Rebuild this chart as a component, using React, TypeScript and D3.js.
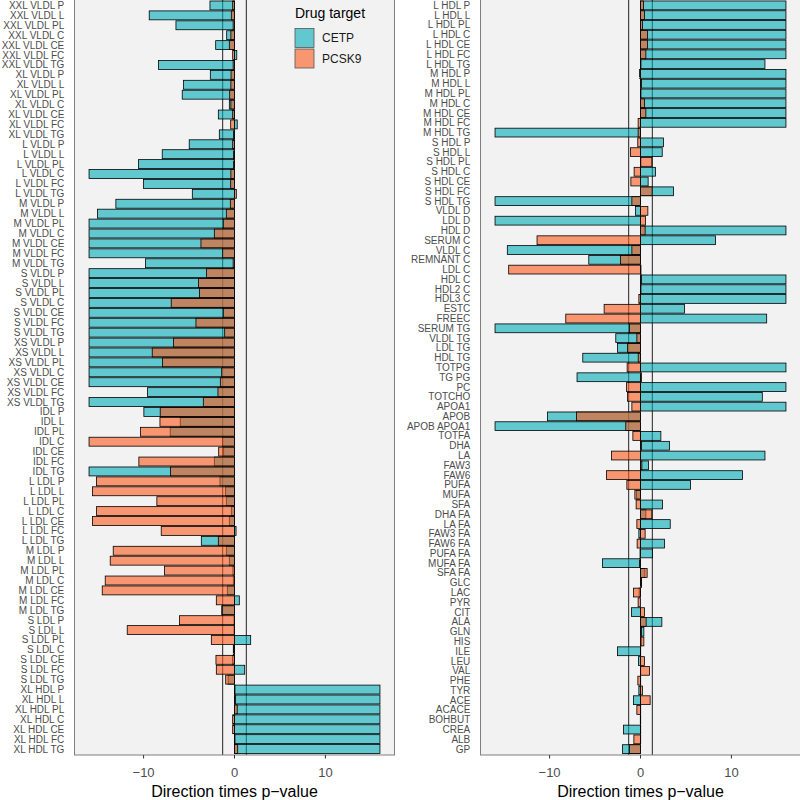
import React from "react";
import * as d3 from "d3";

const leftCategories = [
  "XXL VLDL P","XXL VLDL L","XXL VLDL PL","XXL VLDL C","XXL VLDL CE","XXL VLDL FC","XXL VLDL TG",
  "XL VLDL P","XL VLDL L","XL VLDL PL","XL VLDL C","XL VLDL CE","XL VLDL FC","XL VLDL TG",
  "L VLDL P","L VLDL L","L VLDL PL","L VLDL C","L VLDL FC","L VLDL TG",
  "M VLDL P","M VLDL L","M VLDL PL","M VLDL C","M VLDL CE","M VLDL FC","M VLDL TG",
  "S VLDL P","S VLDL L","S VLDL PL","S VLDL C","S VLDL CE","S VLDL FC","S VLDL TG",
  "XS VLDL P","XS VLDL L","XS VLDL PL","XS VLDL C","XS VLDL CE","XS VLDL FC","XS VLDL TG",
  "IDL P","IDL L","IDL PL","IDL C","IDL CE","IDL FC","IDL TG",
  "L LDL P","L LDL L","L LDL PL","L LDL C","L LDL CE","L LDL FC","L LDL TG",
  "M LDL P","M LDL L","M LDL PL","M LDL C","M LDL CE","M LDL FC","M LDL TG",
  "S LDL P","S LDL L","S LDL PL","S LDL C","S LDL CE","S LDL FC","S LDL TG",
  "XL HDL P","XL HDL L","XL HDL PL","XL HDL C","XL HDL CE","XL HDL FC","XL HDL TG",
];

const leftCETP = [
  -2.7,-9.38,-6.44,-0.86,-2.07,0.25,-8.35,
  -2.66,-5.6,-5.75,-0.57,-1.78,0.3,-1.67,
  -4.98,-7.95,-10.55,-16,-10.0,-4.64,
  -13.05,-15.07,-16,-16,-16,-16,-9.78,
  -16,-16,-16,-16,-16,-16,-16,
  -16,-16,-16,-16,-16,-9.57,-16,
  -9.97,-5.97,-7.07,-1.3,-1.19,-2.22,-16,
  -1.6,-1.0,-0.9,-0.35,-0.57,0.17,-3.65,
  -0.9,-0.57,-0.17,-0.13,-0.79,0.53,-1.4,
  -0.05,-0.05,1.78,-0.13,-0.2,1.12,-0.7,
  16,16,16,16,16,16,16,
];

const leftPCSK9 = [
  -0.2,-0.35,-0.15,-0.4,-0.57,-0.2,-0.15,
  -0.38,-0.4,-0.53,-0.4,-0.2,-0.42,-0.1,
  -0.2,-0.1,-0.1,-0.4,-0.42,0.2,
  -0.46,-0.9,-1.23,-2.22,-3.69,-1.3,-0.15,
  -3.07,-3.95,-3.84,-6.96,-1.23,-4.24,-1.08,
  -6.7,-9.05,-7.91,-1.41,-1.56,-1.82,-3.43,
  -8.17,-8.2,-10.33,-16,-1.74,-10.52,-7.03,
  -15.18,-15.62,-8.54,-15.18,-15.62,-8.06,-1.78,
  -13.34,-13.67,-7.69,-14.22,-14.55,-2.0,-1.35,
  -6.04,-11.8,-2.55,-0.1,-2.04,-2.0,-0.97,
  0.05,0.1,0.3,-0.2,-0.2,0.05,0.35,
];

const rightCategories = [
  "L HDL P","L HDL L","L HDL PL","L HDL C","L HDL CE","L HDL FC","L HDL TG",
  "M HDL P","M HDL L","M HDL PL","M HDL C","M HDL CE","M HDL FC","M HDL TG",
  "S HDL P","S HDL L","S HDL PL","S HDL C","S HDL CE","S HDL FC","S HDL TG",
  "VLDL D","LDL D","HDL D","SERUM C","VLDL C","REMNANT C","LDL C","HDL C","HDL2 C","HDL3 C",
  "ESTC","FREEC","SERUM TG","VLDL TG","LDL TG","HDL TG","TOTPG","TG PG","PC","TOTCHO",
  "APOA1","APOB","APOB APOA1","TOTFA","DHA","LA","FAW3","FAW6","PUFA","MUFA",
  "SFA","DHA FA","LA FA","FAW3 FA","FAW6 FA","PUFA FA","MUFA FA","SFA FA",
  "GLC","LAC","PYR","CIT","ALA","GLN","HIS","ILE","LEU","VAL",
  "PHE","TYR","ACE","ACACE","BOHBUT","CREA","ALB","GP",
];

const rightCETP = [
  16,16,16,16,16,16,13.69,
  16,16,16,16,16,16,-16,
  2.53,2.39,0.05,1.65,0.84,3.63,-16,
  -0.55,-16,16,8.26,-14.65,-5.69,0.05,16,16,16,
  4.85,13.88,-16,-2.72,-2.53,-6.35,16,-6.98,16,13.4,
  16,-10.24,-16,2.24,3.19,13.69,0.88,11.23,5.5,-0.45,
  2.42,0.59,3.27,-0.18,2.64,1.32,-4.19,0.48,
  0.1,-0.15,0.0,-0.99,2.35,0.37,0.1,-2.53,-0.22,0.02,
  0.02,-0.18,-0.77,0.02,0.02,-1.87,0.02,-1.98,
];

const rightPCSK9 = [
  0.33,0.44,0.22,0.77,0.77,0.59,0.05,
  -0.1,0.1,0.05,0.44,0.59,-0.26,-0.26,
  -0.3,-1.1,1.25,-0.7,-1.06,1.28,-0.95,
  0.81,0.55,0.51,-11.38,-0.95,-2.2,-14.5,0.1,0.05,-0.18,
  -4.0,-8.22,-1.21,-0.4,-1.43,-0.25,-1.47,0.1,-1.54,-1.43,
  -0.95,-7.05,-1.62,-0.84,0.1,-3.19,0.15,-3.74,-1.5,-0.62,
  -0.48,1.25,-0.4,0.51,-0.37,-0.05,-0.1,0.73,
  0.1,-0.77,-0.26,0.44,0.62,0.1,0.37,0.02,0.44,0.99,
  -0.29,0.22,1.06,-0.4,-0.02,0.02,-0.73,-1.21,
];

const xTicks = [-10, 0, 10];
const thresholds = [-1.3, 1.3];
const seriesNames = ["CETP", "PCSK9"];

const FONT = "'Liberation Sans', Arial, Helvetica, sans-serif";
const CETP_FILL = "rgb(0,172,185)";
const PCSK9_FILL = "rgb(250,89,25)";
const FILL_ALPHA = 0.6;
const PANEL_BG = "#F2F2F2";

const PANEL_TOP = -0.5;
const PANEL_BOTTOM = 755;

type PanelProps = {
  left: number;
  right: number;
  cats: string[];
  cetp: number[];
  pcsk9: number[];
  legend?: boolean;
};

function Panel({ left, right, cats, cetp, pcsk9, legend }: PanelProps) {
  const x = d3.scaleLinear().domain([-17.6, 17.6]).range([left, right]);
  const y = d3
    .scaleBand<string>()
    .domain(cats)
    .range([PANEL_TOP, PANEL_BOTTOM])
    .paddingInner(0.1)
    .paddingOuter(0.15);
  const bw = y.bandwidth();
  const bar = (v: number, c: string, i: number, fill: string, key: string) => (
    <rect
      key={key + i}
      x={Math.min(x(0), x(v))}
      width={Math.abs(x(v) - x(0))}
      y={y(c)}
      height={bw}
      fill={fill}
      fillOpacity={FILL_ALPHA}
      stroke="#000"
      strokeWidth={0.8}
    />
  );
  const cx = (left + right) / 2;
  return (
    <g>
      <rect x={left} y={PANEL_TOP} width={right - left} height={PANEL_BOTTOM - PANEL_TOP} fill={PANEL_BG} />
      {thresholds.map((t) => (
        <line key={t} x1={x(t)} x2={x(t)} y1={PANEL_TOP} y2={PANEL_BOTTOM} stroke="#222" strokeWidth={1} />
      ))}
      {cats.map((c, i) => bar(cetp[i], c, i, CETP_FILL, "c"))}
      {cats.map((c, i) => bar(pcsk9[i], c, i, PCSK9_FILL, "p"))}
      <rect
        x={left}
        y={PANEL_TOP}
        width={right - left}
        height={PANEL_BOTTOM - PANEL_TOP}
        fill="none"
        stroke="#7f7f7f"
        strokeWidth={1}
      />
      {cats.map((c) => (
        <text
          key={"l" + c}
          x={left - 10.2}
          y={(y(c) as number) + bw / 2}
          dy="0.35em"
          textAnchor="end"
          fontSize={10}
          fontFamily={FONT}
          fill="#4D4D4D"
        >
          {c}
        </text>
      ))}
      {xTicks.map((t) => (
        <g key={"t" + t}>
          <line x1={x(t)} x2={x(t)} y1={PANEL_BOTTOM} y2={PANEL_BOTTOM + 3.5} stroke="#333" strokeWidth={1} />
          <text
            x={x(t)}
            y={777}
            textAnchor="middle"
            fontSize={13}
            fontFamily={FONT}
            fill="#4D4D4D"
          >
            {t < 0 ? "\u2212" + Math.abs(t) : String(t)}
          </text>
        </g>
      ))}
      <text x={cx} y={796.5} textAnchor="middle" fontSize={16} fontFamily={FONT} fill="#000">
        {"Direction times p\u2212value"}
      </text>
      {legend && (
        <g>
          <text x={295} y={17.5} fontSize={14} fontFamily={FONT} fill="#000">
            Drug target
          </text>
          {seriesNames.map((s, i) => (
            <g key={s}>
              <rect
                x={295}
                y={28.5 + i * 20.5}
                width={19}
                height={19}
                fill={i === 0 ? CETP_FILL : PCSK9_FILL}
                fillOpacity={FILL_ALPHA}
                stroke="#555"
                strokeWidth={0.8}
              />
              <text x={322} y={38 + i * 20.5} dy="0.35em" fontSize={12} fontFamily={FONT} fill="#1a1a1a">
                {s}
              </text>
            </g>
          ))}
        </g>
      )}
    </g>
  );
}

export default function App() {
  return (
    <svg
      width={800}
      height={800}
      style={{ position: "absolute", top: 0, left: 0, background: "#fff" }}
    >
      <rect x={0} y={0} width={800} height={800} fill="#fff" />
      <Panel left={74.5} right={394.5} cats={leftCategories} cetp={leftCETP} pcsk9={leftPCSK9} legend />
      <Panel left={480.5} right={800.5} cats={rightCategories} cetp={rightCETP} pcsk9={rightPCSK9} />
    </svg>
  );
}
